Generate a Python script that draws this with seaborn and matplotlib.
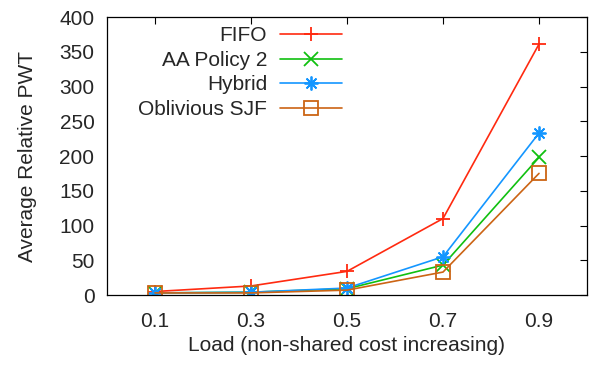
import matplotlib
matplotlib.use("Agg")
import matplotlib.pyplot as plt
import seaborn as sns
import pandas as pd

load = [0.1, 0.3, 0.5, 0.7, 0.9]
fifo = [5, 13, 34, 110, 361]
aa_policy2 = [3, 4, 9, 43, 198]
hybrid = [3, 4, 10, 55, 233]
oblivious_sjf = [3, 3, 7, 33, 175]

series_names = ["FIFO", "AA Policy 2", "Hybrid", "Oblivious SJF"]
series_values = [fifo, aa_policy2, hybrid, oblivious_sjf]
x_ticks = [0.1, 0.3, 0.5, 0.7, 0.9]
y_ticks = [0, 50, 100, 150, 200, 250, 300, 350, 400]

colors = ["#ff2a10", "#10c010", "#1496ff", "#cc6414"]
markers = ["+", "x", (8, 2, 0), "s"]

sns.set_theme(style="white")
plt.rcParams["font.family"] = ["Liberation Sans", "DejaVu Sans"]

fig = plt.figure(figsize=(5.93, 3.70), dpi=100)
ax = fig.add_axes([0.1804, 0.2027, 0.8095, 0.7513])

for name, vals, c, m in zip(series_names, series_values, colors, markers):
    df = pd.DataFrame({"load": load, "pwt": vals})
    sns.lineplot(data=df, x="load", y="pwt", ax=ax, color=c, marker=m,
                 markersize=10, markeredgewidth=1.3, markeredgecolor=c,
                 markerfacecolor="none", linewidth=1.2, label=name)

ax.set_xlim(0, 1.0)
ax.set_ylim(0, 400)
ax.set_xticks(x_ticks)
ax.set_xticklabels([f"{t:.1f}" for t in x_ticks])
ax.set_yticks(y_ticks)
ax.tick_params(direction="in", length=5, width=0.8, color="black",
               top=True, right=True, labelsize=15, pad=9)
ax.tick_params(axis="x", pad=12)
for s in ax.spines.values():
    s.set_color("black")
    s.set_linewidth(0.9)

ax.set_xlabel("Load (non-shared cost increasing)", fontsize=15, labelpad=4)
ax.set_ylabel("Average Relative PWT", fontsize=15, labelpad=16)

ax.legend(loc="upper right", bbox_to_anchor=(0.49, 0.967), frameon=False,
          markerfirst=False, fontsize=15, handlelength=3.0, handletextpad=0.6,
          labelspacing=0.27, borderpad=0, borderaxespad=0)

fig.savefig("out.png", dpi=100)
